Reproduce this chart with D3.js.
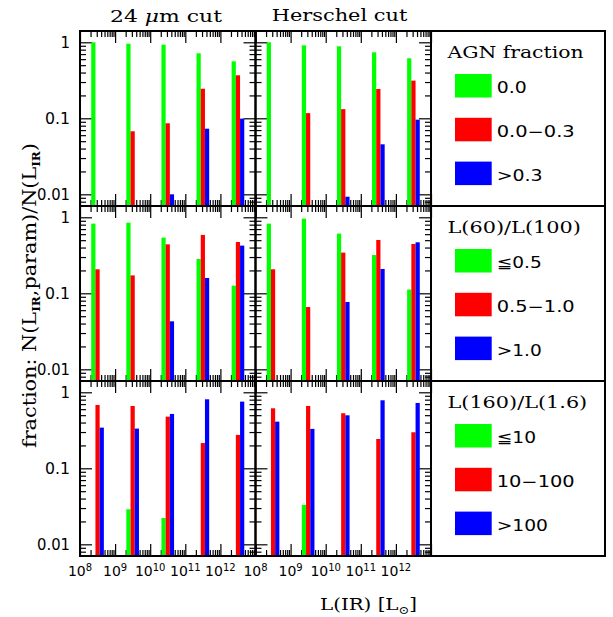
<!DOCTYPE html>
<html><head><meta charset="utf-8">
<script src="https://cdn.jsdelivr.net/npm/d3@7"></script>
<style>body{margin:0;background:#fff}svg{display:block}</style>
</head><body><svg id="c" width="613" height="617"></svg>
<script>
// ---- data ----
const binCenters = [8.5, 9.5, 10.5, 11.5, 12.5];            // log10 L(IR) bin centres
const columnTitles = ["24 μm cut", "Herschel cut"];
const seriesColors = ["#00ff00", "#ff0000", "#0000ff"];
// row 1: AGN fraction
const agn24_g = [1.0, 0.958, 0.93, 0.717, 0.562];
const agn24_r = [null, 0.0675, 0.086, 0.245, 0.368];
const agn24_b = [null, null, 0.0100, 0.073, 0.099];
const agnH_g  = [1.0, 0.913, 0.886, 0.739, 0.616];
const agnH_r  = [null, 0.117, 0.132, 0.243, 0.313];
const agnH_b  = [null, null, 0.0093, 0.0455, 0.096];
// row 2: L(60)/L(100)
const r60_24_g = [0.825, 0.85, 0.54, 0.283, 0.126];
const r60_24_r = [0.207, 0.172, 0.441, 0.586, 0.473];
const r60_24_b = [null, null, 0.0428, 0.159, 0.424];
const r60H_g   = [0.825, 0.96, 0.61, 0.319, 0.112];
const r60H_r   = [0.207, 0.066, 0.343, 0.503, 0.446];
const r60H_b   = [null, null, 0.0769, 0.209, 0.469];
// row 3: L(160)/L(1.6)
const r160_24_g = [null, 0.0289, 0.0222, null, null];
const r160_24_r = [0.681, 0.661, 0.478, 0.215, 0.275];
const r160_24_b = [0.343, 0.333, 0.519, 0.809, 0.754];
const r160H_g   = [null, 0.033, null, null, null];
const r160H_r   = [0.616, 0.661, 0.53, 0.243, 0.298];
const r160H_b   = [0.411, 0.33, 0.498, 0.785, 0.724];

const legendTitles = ["AGN fraction", "L(60)/L(100)", "L(160)/L(1.6)"];
const legendLabelsAGN = ["0.0", "0.0\u22120.3", ">0.3"];
const legendLabels60  = ["\u22660.5", "0.5\u22121.0", ">1.0"];
const legendLabels160 = ["\u226610", "10\u2212100", ">100"];
const yTickValues = [0.01, 0.1, 1];
const yTickLabels = ["0.01", "0.1", "1"];
const xTickExponents = [8, 9, 10, 11, 12];

// ---- layout ----
const svg = d3.select("#c");
const colX = [80, 255.5], rowY = [31, 206, 381];
const W = 175.5, H = 175;
const x = d3.scaleLog().domain([1e8, 1e13]).range([0, W]);
const y = d3.scaleLog().domain([0.00702, 1.408]).range([H, 0]);
const serif = "DejaVu Serif", sans = "DejaVu Sans";

const panelData = [
  [[agn24_g, agn24_r, agn24_b], [agnH_g, agnH_r, agnH_b]],
  [[r60_24_g, r60_24_r, r60_24_b], [r60H_g, r60H_r, r60H_b]],
  [[r160_24_g, r160_24_r, r160_24_b], [r160H_g, r160H_r, r160H_b]]
];

const xMajor = d3.range(8, 14).map(e => Math.pow(10, e));
const xMinor = [];
for (let e = 8; e < 13; e++) for (let k = 2; k <= 9; k++) xMinor.push(k * Math.pow(10, e));
const yMajor = [0.01, 0.1, 1];
const yMinor = [];
for (let e = -3; e <= 0; e++) for (let k = 2; k <= 9; k++) {
  const v = k * Math.pow(10, e);
  if (v > 0.00702 && v < 1.408) yMinor.push(v);
}

function styleAxis(g) {
  g.select(".domain").remove();
  g.selectAll(".tick line").attr("stroke", "#000").attr("stroke-width", 1.2);
}

const barW = 0.12; // in decades
panelData.forEach((row, r) => {
  row.forEach((series, c) => {
    const g = svg.append("g").attr("transform", `translate(${colX[c]},${rowY[r]})`);
    [[xMajor, 12], [xMinor, 6]].forEach(([vals, len]) => {
      g.append("g").attr("transform", `translate(0,${H})`)
        .call(d3.axisBottom(x).tickValues(vals).tickSize(-len).tickFormat("")).call(styleAxis);
      g.append("g")
        .call(d3.axisTop(x).tickValues(vals).tickSize(-len).tickFormat("")).call(styleAxis);
    });
    [[yMajor, 12], [yMinor, 6]].forEach(([vals, len]) => {
      g.append("g")
        .call(d3.axisLeft(y).tickValues(vals).tickSize(-len).tickFormat("")).call(styleAxis);
      g.append("g").attr("transform", `translate(${W},0)`)
        .call(d3.axisRight(y).tickValues(vals).tickSize(-len).tickFormat("")).call(styleAxis);
    });
    series.forEach((vals, s) => {
      const items = vals.map((v, i) => ({v, c: binCenters[i]})).filter(d => d.v != null);
      g.selectAll(null).data(items).enter().append("rect")
        .attr("x", d => x(Math.pow(10, d.c + (s - 1.5) * barW)))
        .attr("width", d => x(Math.pow(10, d.c + (s - 0.5) * barW)) - x(Math.pow(10, d.c + (s - 1.5) * barW)))
        .attr("y", d => y(d.v))
        .attr("height", d => H - y(d.v))
        .attr("fill", seriesColors[s]);
    });
    g.append("rect").attr("width", W).attr("height", H)
      .attr("fill", "none").attr("stroke", "#000").attr("stroke-width", 2);
  });
  const yLens = {"0.01": 33, "0.1": 25};
  yTickValues.forEach((v, i) => {
    const t = svg.append("text")
      .attr("x", 70).attr("y", rowY[r] + y(v)).attr("dy", "0.36em")
      .attr("text-anchor", "end")
      .attr("font-family", sans).attr("font-size", 15).text(yTickLabels[i]);
    if (yLens[yTickLabels[i]]) t.attr("x", 70 - yLens[yTickLabels[i]]).attr("text-anchor", "start")
      .attr("textLength", yLens[yTickLabels[i]]).attr("lengthAdjust", "spacingAndGlyphs");
  });
});

colX.forEach(cx => {
  xTickExponents.forEach(e => {
    const t = svg.append("text")
      .attr("x", cx + x(Math.pow(10, e))).attr("y", 576)
      .attr("text-anchor", "middle").attr("font-family", sans).attr("font-size", 14);
    t.append("tspan").text("10");
    t.append("tspan").attr("font-size", 10).attr("dy", -5.5).text(e);
  });
});

const titleX = [110, 271.7], titleLen = [112, 135.6], titleY = [21.7, 21];
columnTitles.forEach((tt, i) => {
  const t = svg.append("text").attr("x", titleX[i]).attr("y", titleY[i])
    .attr("font-family", serif).attr("font-size", 17)
    .attr("textLength", titleLen[i]).attr("lengthAdjust", "spacingAndGlyphs");
  if (i === 0) {
    t.append("tspan").text("24 ");
    t.append("tspan").attr("font-style", "italic").text("μ");
    t.append("tspan").text("m cut");
  } else t.text(tt);
});

{
  const t = svg.append("text").attr("x", 320).attr("y", 610)
    .attr("font-family", serif).attr("font-size", 17)
    .attr("textLength", 97).attr("lengthAdjust", "spacingAndGlyphs");
  t.append("tspan").text("L(IR)  [L");
  t.append("tspan").attr("font-size", 11).attr("dy", 4).text("\u2299");
  t.append("tspan").attr("dy", -4).text("]");
}
{
  const t = svg.append("text")
    .attr("transform", "translate(35.5,448) rotate(-90)")
    .attr("font-family", serif).attr("font-size", 19)
    .attr("textLength", 305).attr("lengthAdjust", "spacingAndGlyphs");
  t.append("tspan").text("fraction:  N(L");
  t.append("tspan").attr("font-size", 11).attr("font-weight", "bold").attr("dy", 4).text("IR");
  t.append("tspan").attr("dy", -4).text(",param)/N(L");
  t.append("tspan").attr("font-size", 11).attr("font-weight", "bold").attr("dy", 4).text("IR");
  t.append("tspan").attr("dy", -4).text(")");
}

const legX = 431, legW = 174;
const legendLabelSets = [legendLabelsAGN, legendLabels60, legendLabels160];
const titleLens = [136, 133.4, 139.7];
const labelLens = [[30, 78, 46], [45, 78, 45], [39.3, 78, 51.3]];
legendTitles.forEach((tt, i) => {
  const top = rowY[i];
  svg.append("rect").attr("x", legX).attr("y", top).attr("width", legW).attr("height", H)
    .attr("fill", "none").attr("stroke", "#000").attr("stroke-width", 2);
  svg.append("text").attr("x", 447.5).attr("y", top + 27)
    .attr("font-family", serif).attr("font-size", 16)
    .attr("textLength", titleLens[i]).attr("lengthAdjust", "spacingAndGlyphs").text(tt);
  legendLabelSets[i].forEach((lab, j) => {
    const sy = top + 43 + j * 43.8;
    svg.append("rect").attr("x", 455).attr("y", sy).attr("width", 36.7).attr("height", 23.5)
      .attr("fill", seriesColors[j]);
    svg.append("text").attr("x", 496.7).attr("y", sy + 19.3)
      .attr("font-family", sans).attr("font-size", 15)
      .attr("textLength", labelLens[i][j]).attr("lengthAdjust", "spacingAndGlyphs").text(lab);
  });
});
</script></body></html>
